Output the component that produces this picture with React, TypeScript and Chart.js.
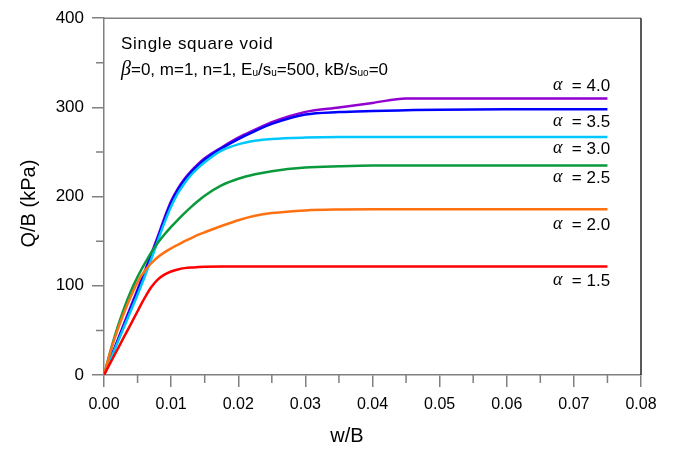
import React, { useEffect, useRef } from "react";
import { Chart, registerables } from "chart.js";

Chart.register(...registerables);

const FONT = '"Liberation Sans", Arial, sans-serif';

// w/B grid shared by all curves
const wValues = [
  0, 0.001, 0.002, 0.003, 0.004, 0.005, 0.006, 0.007, 0.008, 0.009, 0.01, 0.011, 0.012, 0.013,
  0.014, 0.015, 0.0175, 0.02, 0.0225, 0.025, 0.03, 0.035, 0.04, 0.045, 0.05, 0.06, 0.075,
];

// Q/B (kPa) for each alpha
const qAlpha15 = [0, 14.3, 28.6, 43, 57, 71.5, 85.5, 98, 107, 112.5, 116, 118.3, 119.8, 120.6, 121, 121.3, 121.5, 121.5, 121.5, 121.5, 121.5, 121.5, 121.5, 121.5, 121.5, 121.5, 121.5];
const qAlpha20 = [0, 27, 50, 70, 88, 104, 116, 125, 132, 137.5, 142, 146, 150, 153.5, 157, 160, 167, 173.5, 178.5, 181.5, 184.5, 185.5, 185.7, 185.7, 185.7, 185.7, 185.7];
const qAlpha25 = [0, 28, 53, 75, 94, 110, 124, 137, 148, 157.5, 166, 174, 181.5, 188.5, 195, 201, 212.5, 220, 225, 228.5, 232.5, 234, 234.8, 234.8, 234.8, 234.8, 234.8];
const qAlpha30 = [0, 18, 36, 54, 72, 90, 109, 129, 150, 170.5, 189, 203.5, 215, 224.5, 232, 238.5, 251.5, 258.5, 262.5, 264.6, 266.2, 266.7, 266.7, 266.7, 266.7, 266.7, 266.7];
const qAlpha35 = [0, 19, 37.5, 56, 75, 94, 113, 133, 153, 174, 193, 207.5, 218.5, 227.5, 235, 241.5, 254, 264.5, 273.5, 281.5, 292, 294.8, 296, 296.8, 297.5, 298, 298];
const qAlpha40 = [0, 19, 38.5, 58, 77, 96, 115, 135, 155, 176, 195, 209, 220, 229, 236.5, 243, 255, 266, 275, 283.5, 295, 300, 305, 310, 310, 310, 310];

const alphaNames = ["1.5", "2.0", "2.5", "3.0", "3.5", "4.0"];
const alphaColors = ["#ff0000", "#ff7010", "#0a9a3c", "#00c8ff", "#0000ff", "#9100d0"];
const alphaSeries = [qAlpha15, qAlpha20, qAlpha25, qAlpha30, qAlpha35, qAlpha40];
// label anchor (right edge x in w/B, centre y in kPa)
const labelW = 0.0754;
const labelQ = [105, 168, 220, 253, 283, 324];

const xTickLabels = ["0.00", "0.01", "0.02", "0.03", "0.04", "0.05", "0.06", "0.07", "0.08"];
const xMinorTicks = [0.005, 0.015, 0.025, 0.035, 0.045, 0.055, 0.065, 0.075];
const yMinorTicks = [50, 150, 250, 350];

const overlay = {
  id: "overlay",
  afterDraw(chart: any) {
    const ctx = chart.ctx;
    const xs = chart.scales.x;
    const ys = chart.scales.y;
    const a = chart.chartArea;
    ctx.save();
    // top and right frame
    ctx.lineWidth = 1.5;
    ctx.strokeStyle = "#808080";
    ctx.beginPath();
    ctx.moveTo(a.left, a.top);
    ctx.lineTo(a.right, a.top);
    ctx.stroke();
    ctx.strokeStyle = "#222";
    ctx.beginPath();
    ctx.moveTo(a.right, a.top);
    ctx.lineTo(a.right, a.bottom);
    ctx.stroke();
    // minor ticks
    ctx.strokeStyle = "#808080";
    ctx.lineWidth = 1.5;
    ctx.beginPath();
    xMinorTicks.forEach((v) => {
      const px = xs.getPixelForValue(v);
      ctx.moveTo(px, a.bottom);
      ctx.lineTo(px, a.bottom + 8);
    });
    yMinorTicks.forEach((v) => {
      const py = ys.getPixelForValue(v);
      ctx.moveTo(a.left, py);
      ctx.lineTo(a.left - 8, py);
    });
    ctx.stroke();

    ctx.fillStyle = "#000";
    ctx.textBaseline = "middle";
    // axis titles
    ctx.font = `20px ${FONT}`;
    ctx.textAlign = "center";
    ctx.fillText("w/B", a.left + 243, 436);
    ctx.save();
    ctx.translate(29, (a.top + a.bottom) / 2 + 7);
    ctx.rotate(-Math.PI / 2);
    ctx.fillText("Q/B (kPa)", 0, 0);
    ctx.restore();

    // annotation
    ctx.textAlign = "left";
    ctx.font = `17px ${FONT}`;
    (ctx as any).letterSpacing = "0.7px";
    ctx.fillText("Single square void", a.left + 17, 44);
    (ctx as any).letterSpacing = "0px";
    let x = a.left + 17;
    const y = 70;
    const parts: [string, string, number][] = [
      ["β", `italic 20px "Liberation Serif", serif`, 0],
      ["=0, m=1, n=1, E", `17px ${FONT}`, 0],
      ["u", `10px ${FONT}`, 3],
      ["/s", `17px ${FONT}`, 0],
      ["u", `10px ${FONT}`, 3],
      ["=500, kB/s", `17px ${FONT}`, 0],
      ["uo", `10px ${FONT}`, 3],
      ["=0", `17px ${FONT}`, 0],
    ];
    parts.forEach(([t, f, dy]) => {
      ctx.font = f;
      ctx.fillText(t, x, y + dy);
      x += ctx.measureText(t).width;
    });

    // alpha labels
    alphaNames.forEach((name, i) => {
      const rx = xs.getPixelForValue(labelW);
      const py = ys.getPixelForValue(labelQ[i]);
      ctx.font = `17px ${FONT}`;
      ctx.textAlign = "right";
      ctx.fillText("= " + name, rx, py);
      ctx.textAlign = "left";
      ctx.font = `italic 18px "Liberation Serif", serif`;
      ctx.fillText("α", rx - 57, py - 1);
    });
    ctx.restore();
  },
};

export default function App() {
  const ref = useRef<HTMLCanvasElement>(null);
  useEffect(() => {
    if (!ref.current) return;
    const chart = new Chart(ref.current, {
      type: "line",
      data: {
        datasets: alphaSeries.map((q, i) => ({
          label: "α = " + alphaNames[i],
          data: wValues.map((w, j) => ({ x: w, y: q[j] })),
          borderColor: alphaColors[i],
          backgroundColor: alphaColors[i],
          borderWidth: 2.5,
          pointRadius: 0,
          fill: false,
          cubicInterpolationMode: "monotone" as const,
        })),
      },
      options: {
        animation: false,
        responsive: false,
        layout: { padding: { top: 17, right: 39, left: 0, bottom: 0 } },
        plugins: { legend: { display: false }, tooltip: { enabled: false } },
        scales: {
          x: {
            type: "linear",
            min: 0,
            max: 0.08,
            afterFit: (s: any) => {
              s.height = 74;
            },
            ticks: {
              stepSize: 0.01,
              color: "#000",
              font: { size: 16, family: FONT },
              padding: 8,
              callback: (v: any) => xTickLabels[Math.round(Number(v) * 100)] ?? "",
            },
            grid: { drawOnChartArea: false, tickLength: 12, color: "#808080", lineWidth: 1.5 },
            border: { color: "#808080", width: 1.5 },
          },
          y: {
            min: 0,
            max: 400,
            afterFit: (s: any) => {
              s.width = 104;
            },
            ticks: {
              stepSize: 100,
              color: "#000",
              font: { size: 17, family: FONT },
              padding: 8,
            },
            grid: { drawOnChartArea: false, tickLength: 12, color: "#808080", lineWidth: 1.5 },
            border: { color: "#808080", width: 1.5 },
          },
        },
      },
      plugins: [overlay],
    });
    return () => chart.destroy();
  }, []);
  return (
    <div style={{ position: "fixed", left: 0, top: 0, width: 680, height: 449, background: "#fff" }}>
      <canvas ref={ref} width={680} height={449} />
    </div>
  );
}
